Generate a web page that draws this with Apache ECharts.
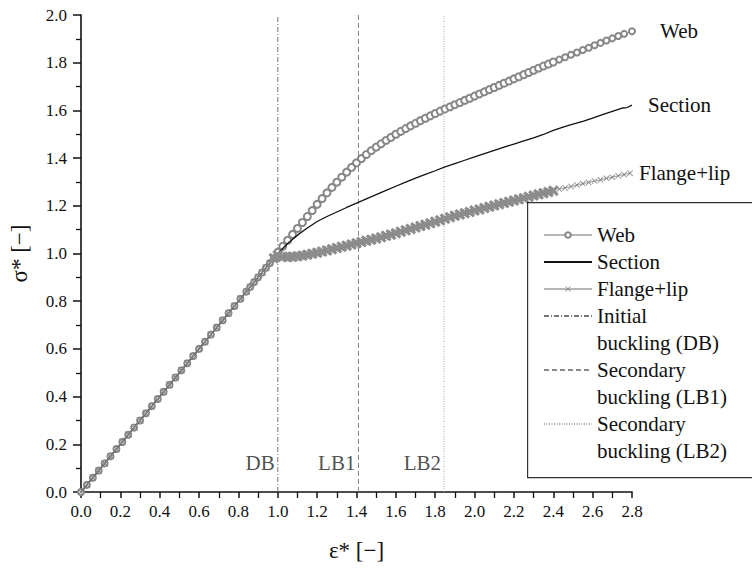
<!DOCTYPE html>
<html><head><meta charset="utf-8">
<script src="https://cdn.jsdelivr.net/npm/echarts/dist/echarts.min.js"></script>
<style>html,body{margin:0;padding:0;background:#fff}#c{width:752px;height:571px}</style>
</head><body><div id="c"></div>
<script>
// ---- data ----
const xTickLabels = ['0.0','0.2','0.4','0.6','0.8','1.0','1.2','1.4','1.6','1.8','2.0','2.2','2.4','2.6','2.8'];
const yTickLabels = ['0.0','0.2','0.4','0.6','0.8','1.0','1.2','1.4','1.6','1.8','2.0'];

// shared pre-buckling (linear) branch
const linearX = [0,0.03,0.06,0.09,0.12,0.15,0.18,0.21,0.24,0.27,0.3,0.33,0.36,0.39,0.42,0.45,0.48,0.51,0.54,0.57,
  0.6,0.63,0.66,0.69,0.72,0.75,0.78,0.81,0.84,0.86,0.88,0.9,0.92,0.94,0.96,0.98];
const linearY = [0,0.03,0.06,0.09,0.12,0.15,0.18,0.21,0.24,0.27,0.3,0.33,0.36,0.39,0.42,0.45,0.48,0.51,0.54,0.57,
  0.6,0.63,0.66,0.69,0.72,0.75,0.78,0.81,0.84,0.86,0.88,0.9,0.92,0.94,0.96,0.98];

// Web: densely sampled post-buckling part (1.0 .. 2.4) and sparser tail (2.4 .. 2.8)
const webX = [1.0,1.025,1.05,1.075,1.1,1.125,1.15,1.175,1.2,1.225,1.25,1.275,1.3,1.325,1.35,1.375,1.4,1.425,1.45,1.475,1.5,1.525,1.55,1.575,
  1.6,1.625,1.65,1.675,1.7,1.725,1.75,1.775,1.8,1.825,1.85,1.875,1.9,1.925,1.95,1.975,2.0,2.025,2.05,2.075,2.1,2.125,2.15,2.175,
  2.2,2.225,2.25,2.275,2.3,2.325,2.35,2.375,2.4];
const webY = [1.005,1.03,1.055,1.08,1.105,1.13,1.155,1.18,1.206,1.23,1.254,1.277,1.299,1.32,1.341,1.361,1.38,1.398,1.415,1.431,1.446,1.46,1.474,1.487,
  1.5,1.512,1.524,1.535,1.546,1.557,1.567,1.577,1.587,1.597,1.606,1.615,1.624,1.633,1.642,1.651,1.66,1.669,1.678,1.687,1.696,1.705,1.714,1.723,
  1.732,1.741,1.75,1.759,1.768,1.777,1.786,1.794,1.803];
const webTailX = [2.43,2.46,2.49,2.52,2.55,2.58,2.61,2.64,2.67,2.7,2.73,2.76,2.8];
const webTailY = [1.813,1.823,1.833,1.843,1.853,1.863,1.873,1.883,1.893,1.902,1.912,1.921,1.932];

const sectionX = [0,1.0,1.05,1.1,1.15,1.2,1.25,1.3,1.35,1.4,1.45,1.5,1.55,1.6,1.65,1.7,1.75,1.8,1.85,1.9,1.95,2.0,
  2.05,2.1,2.15,2.2,2.25,2.3,2.35,2.4,2.45,2.5,2.55,2.6,2.65,2.7,2.75,2.775,2.8];
const sectionY = [0,1.0,1.042,1.077,1.107,1.134,1.155,1.174,1.193,1.211,1.229,1.247,1.265,1.282,1.299,1.316,1.332,1.347,1.363,1.377,1.391,1.405,
  1.419,1.432,1.446,1.459,1.472,1.485,1.499,1.516,1.53,1.542,1.554,1.568,1.582,1.596,1.61,1.612,1.622];

// Flange+lip: densely sampled post-buckling part and sparser tail
const flangeX = [0.98,1.0,1.025,1.05,1.075,1.1,1.125,1.15,1.175,1.2,1.225,1.25,1.275,1.3,1.325,1.35,1.375,1.4,1.425,1.45,1.475,1.5,1.525,1.55,1.575,
  1.6,1.625,1.65,1.675,1.7,1.725,1.75,1.775,1.8,1.825,1.85,1.875,1.9,1.925,1.95,1.975,2.0,2.025,2.05,2.075,2.1,2.125,2.15,2.175,
  2.2,2.225,2.25,2.275,2.3,2.325,2.35,2.375,2.4];
const flangeY = [0.98,0.992,0.986,0.985,0.986,0.988,0.991,0.995,0.999,1.003,1.008,1.013,1.018,1.023,1.028,1.033,1.038,1.043,1.048,1.053,1.058,1.063,1.068,1.074,1.079,
  1.085,1.091,1.097,1.103,1.109,1.115,1.121,1.127,1.133,1.139,1.146,1.152,1.158,1.163,1.169,1.174,1.18,1.185,1.191,1.196,1.201,1.207,1.212,1.217,
  1.222,1.227,1.232,1.238,1.243,1.248,1.253,1.258,1.263];
const flangeTailX = [2.43,2.46,2.49,2.52,2.55,2.58,2.61,2.64,2.67,2.7,2.73,2.76,2.79];
const flangeTailY = [1.27,1.275,1.281,1.287,1.293,1.298,1.304,1.309,1.315,1.32,1.326,1.331,1.337];

const bucklingNames = ['DB','LB1','LB2'];
const bucklingX = [1.0, 1.41, 1.845];
const bucklingLegend = ['Initial buckling (DB)','Secondary buckling (LB1)','Secondary buckling (LB2)'];
const bucklingLegendText = ['Initial\nbuckling (DB)','Secondary\nbuckling (LB1)','Secondary\nbuckling (LB2)'];
const bucklingLabelY = 0.12;
const yRange = [0, 2.0];

// ---- build ----
const zip = (xs, ys) => xs.map((x, i) => [x, ys[i]]);
const SERIF = 'Liberation Serif';
const GRAY = '#878787';
const xPath = 'path://M1,0L5,4L9,0L10,1L6,5L10,9L9,10L5,6L1,10L0,9L4,5L0,1Z';
const xPathBold = 'path://M2,0L5,3L8,0L10,2L7,5L10,8L8,10L5,7L2,10L0,8L3,5L0,2Z';
const dashes = [[5,2,1,2],[5,3],[1,1.5]];
const lineColors = ['#777','#888','#aaa'];
const endLabel = d => ({show: true, formatter: '{a}', distance: d, fontFamily: SERIF, fontSize: 21, color: '#111'});

const chart = echarts.init(document.getElementById('c'), null, {renderer: 'svg'});
const series = [
  { name: 'Web', type: 'line', data: zip(linearX, linearY).concat(zip(webX, webY)), symbol: 'emptyCircle',
    symbolSize: v => v[0] < 0.99 ? 6 : 7, showAllSymbol: true,
    itemStyle: {color: GRAY, borderWidth: 1.4}, lineStyle: {color: '#6f6f6f', width: 1.5}, z: 3 },
  { name: 'Web', type: 'line', data: zip(webTailX, webTailY), symbol: 'emptyCircle', symbolSize: 6, showAllSymbol: true,
    itemStyle: {color: GRAY, borderWidth: 1}, lineStyle: {color: GRAY, width: 0.8}, z: 3, endLabel: endLabel(28) },
  { name: 'Section', type: 'line', data: zip(sectionX, sectionY), symbol: 'none',
    lineStyle: {color: '#111', width: 1.3}, itemStyle: {color: '#111'}, z: 4, endLabel: endLabel(16) },
  { name: 'Flange+lip', type: 'line', data: zip(linearX, linearY), symbol: xPath, symbolSize: 7, showAllSymbol: true,
    itemStyle: {color: GRAY}, lineStyle: {color: '#6f6f6f', width: 1.5}, z: 5 },
  { name: 'Flange+lip', type: 'line', data: zip(flangeX, flangeY), symbol: xPathBold, symbolSize: 11, showAllSymbol: true,
    itemStyle: {color: '#8c8c8c'}, lineStyle: {color: '#8c8c8c', width: 5.5}, z: 5 },
  { name: 'Flange+lip', type: 'line', data: zip(flangeTailX, flangeTailY), symbol: xPath, symbolSize: 6, showAllSymbol: true,
    itemStyle: {color: GRAY}, lineStyle: {color: GRAY, width: 0.8}, z: 5, endLabel: endLabel(9) }
];
bucklingX.forEach((bx, i) => {
  series.push({ name: bucklingLegend[i], type: 'line', data: [[bx, yRange[0]], [bx, yRange[1]]], symbol: 'none',
    lineStyle: {color: lineColors[i], width: 1, type: dashes[i]}, itemStyle: {color: lineColors[i]}, z: 2, silent: true });
});
series.push({ name: 'labels', type: 'scatter', data: bucklingX.map(bx => [bx, bucklingLabelY]), symbolSize: 0, silent: true,
  label: {show: true, position: 'left', distance: 3, formatter: p => bucklingNames[p.dataIndex], fontFamily: SERIF, fontSize: 21, color: '#222'} });

const legendText = {};
bucklingLegend.forEach((n, i) => legendText[n] = ' \n' + bucklingLegendText[i]);
const legText = {fontFamily: SERIF, fontSize: 21, color: '#111', lineHeight: 27};

chart.setOption({
  animation: false,
  backgroundColor: '#fff',
  textStyle: {fontFamily: SERIF},
  grid: {left: 80, right: 120, top: 15, bottom: 79},
  xAxis: { type: 'value', min: 0, max: 2.8, interval: 0.2,
    name: 'ε* [−]', nameLocation: 'middle', nameGap: 47, nameTextStyle: {fontFamily: SERIF, fontSize: 23, color: '#111'},
    axisLine: {onZero: false, lineStyle: {color: '#111', width: 1.6}},
    axisTick: {inside: false, length: 6, lineStyle: {color: '#111', width: 1.5}},
    minorTick: {show: true, splitNumber: 2, length: 6, lineStyle: {color: '#111', width: 1.3}},
    splitLine: {show: false},
    axisLabel: {margin: 11, fontFamily: SERIF, fontSize: 17, color: '#111', formatter: (v, i) => xTickLabels[i]} },
  yAxis: { type: 'value', min: 0, max: 2.0, interval: 0.2,
    name: 'σ* [−]', nameLocation: 'middle', nameGap: 50, nameTextStyle: {fontFamily: SERIF, fontSize: 23, color: '#111'},
    axisLine: {show: true, onZero: false, lineStyle: {color: '#111', width: 1.6}},
    axisTick: {show: true, inside: false, length: 8, lineStyle: {color: '#111', width: 1.5}},
    minorTick: {show: true, splitNumber: 2, length: 5, lineStyle: {color: '#111', width: 1.3}},
    splitLine: {show: false},
    axisLabel: {margin: 14, fontFamily: SERIF, fontSize: 17, color: '#111', formatter: (v, i) => yTickLabels[i]} },
  legend: [
    { data: [
        {name: 'Web', lineStyle: {width: 1}},
        {name: 'Section', itemStyle: {opacity: 0}},
        {name: 'Flange+lip', lineStyle: {width: 1}}
      ], orient: 'vertical', left: 543, top: 221.5, padding: 0, itemGap: 0,
      itemWidth: 48, itemHeight: 7, selectedMode: false, z: 10, textStyle: legText },
    { data: bucklingLegend.map(n => ({name: n, itemStyle: {opacity: 0}})), orient: 'vertical', left: 543, top: 275.5, padding: 0, itemGap: -27,
      itemWidth: 48, itemHeight: 7, selectedMode: false, z: 10, formatter: n => legendText[n], textStyle: legText }
  ],
  graphic: [{ type: 'rect', left: 527, top: 202, z: 6, shape: {width: 240, height: 275},
    style: {fill: '#fff', stroke: '#333', lineWidth: 1.2} }],
  series: series
});
</script></body></html>
